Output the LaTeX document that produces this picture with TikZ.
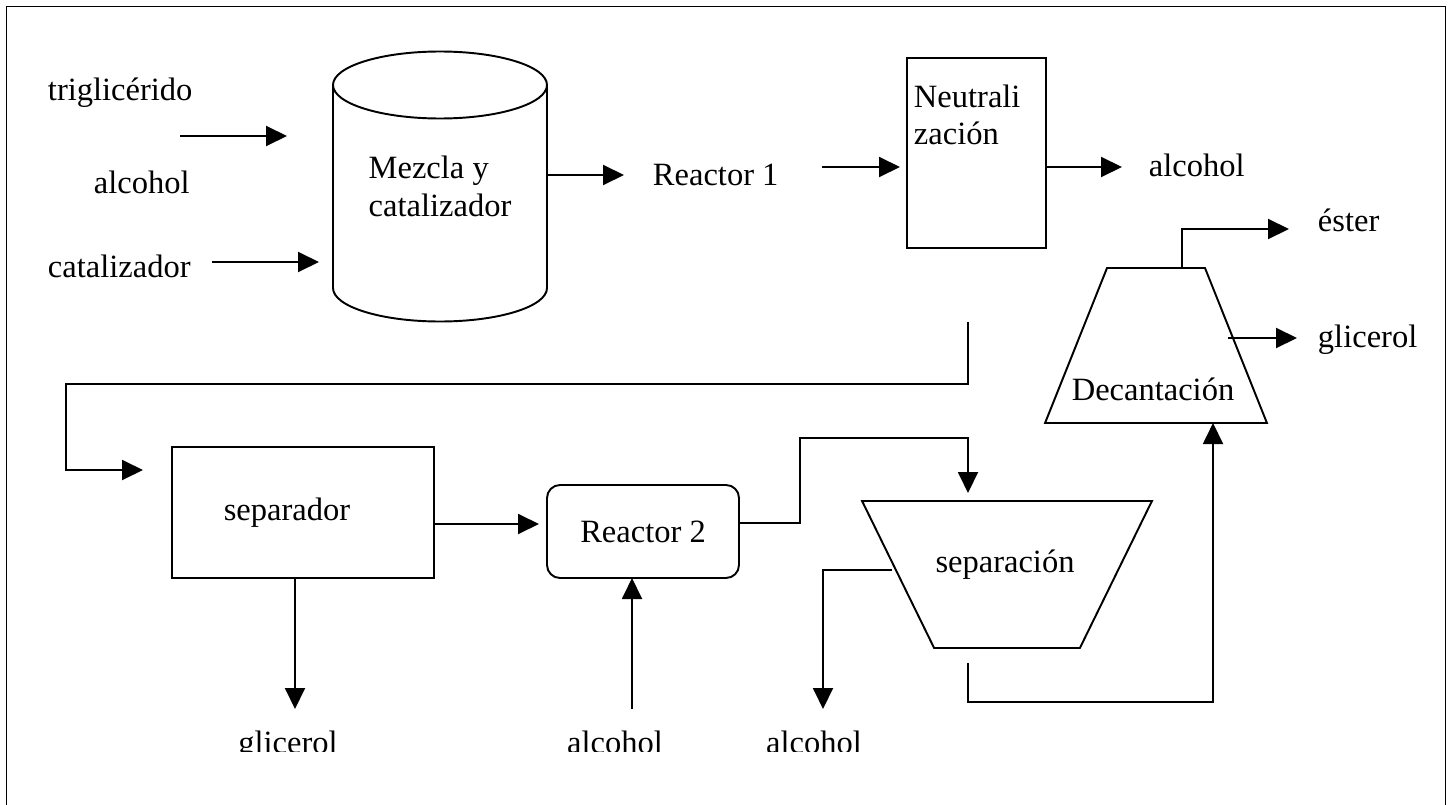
\documentclass[tikz,border=0pt]{standalone}
\usepackage{fontspec}
\setmainfont{Liberation Serif}
\usepackage{tikz}
\usetikzlibrary{shapes.geometric, arrows.meta, positioning, calc}

\begin{document}
\begin{tikzpicture}[y=-1cm, line width=1.1pt,
    every node/.style={font=\fontsize{18.5}{21.3}\selectfont},
    flow/.style={-{Triangle[length=0.42cm, width=0.40cm]}},
    txt/.style={anchor=base west, inner sep=0pt},
    unit/.style={draw, rectangle, outer sep=0pt},
    tank/.style={draw, trapezium, trapezium stretches=true, outer sep=0pt}]
    \useasboundingbox (0,0) rectangle (28.96,16.08);
    \clip (0,0) rectangle (28.96,16.08);
    \draw (0.13,0.13) rectangle (28.91,17);

    % entradas
    \node[txt] (trig) at (0.94,2.00) {triglicérido};
    \node[txt] (alc1) at (1.86,3.86) {alcohol};
    \node[txt] (cat) at (0.94,5.54) {catalizador};
    \coordinate (trigin) at (3.60,2.72);
    \coordinate (catin) at (4.24,5.24);

    % mezcla
    \node[minimum width=4.28cm, minimum height=4.06cm, outer sep=0pt, align=left] (mix) at (8.80,3.73) {Mezcla y\\catalizador};
    \draw (mix.north) ellipse [x radius=2.14cm, y radius=0.67cm];
    \draw (mix.north west) -- (mix.south west) arc[start angle=180, end angle=360, x radius=2.14cm, y radius=0.67cm] -- (mix.north east);

    \draw[flow] (trigin) -- ++(2.14,0);
    \draw[flow] (catin) -- ++(2.14,0);

    \node[txt] (r1) at (13.04,3.70) {Reactor 1};
    \draw[flow] ([yshift=0.23cm]mix.east) -- ++(1.54,0);

    % neutralizacion
    \node[unit, minimum width=2.78cm, minimum height=3.80cm] (neut) at (19.53,3.06) {};
    \node[anchor=north west, inner sep=0pt, align=left] (neutlbl) at (18.26,1.67) {Neutrali\\zación};
    \coordinate (r1out) at (16.44,3.34);
    \draw[flow] (r1out) -- ++(1.56,0);
    \node[txt] (alc2) at (22.96,3.54) {alcohol};
    \draw[flow] ([yshift=-0.28cm]neut.east) -- ++(1.52,0);

    % decantacion
    \node[tank, trapezium left angle=57.7, trapezium right angle=57.7, minimum width=4.44cm, minimum height=3.10cm] (dec) at (23.12,6.91) {};
    \node[anchor=base, inner sep=0pt] (declbl) at (23.06,8.00) {Decantación};
    \node[txt] (ester) at (26.34,4.62) {éster};
    \node[txt] (glic1) at (26.34,6.94) {glicerol};
    \coordinate (esterin) at (25.78,4.58);
    \coordinate (glicout) at (24.56,6.76);
    \draw[flow] ([xshift=0.52cm]dec.north) |- (esterin);
    \draw[flow] (glicout) -- ++(1.38,0);

    % retorno
    \coordinate (neutdown) at (19.36,6.44);
    \coordinate (seprin) at (2.86,9.40);
    \draw[flow] (neutdown) -- ++(0,1.24) -- ++(-18.04,0) |- (seprin);

    % separador y reactor 2
    \node[unit, minimum width=5.24cm, minimum height=2.62cm] (sepr) at (6.06,10.25) {};
    \node[anchor=base, inner sep=0pt] (seprlbl) at (5.74,10.40) {separador};
    \node[unit, rounded corners=0.26cm, minimum width=3.84cm, minimum height=1.86cm] (r2) at (12.86,10.63) {Reactor 2};
    \draw[flow] ([yshift=-0.23cm]sepr.east) -- ++(2.10,0);
    \draw[flow] ([xshift=-0.16cm]sepr.south) -- ++(0,2.62);
    \coordinate (r2feed) at (12.64,14.18);
    \draw[flow] (r2feed) -- (r2feed |- r2.south);

    % separacion
    \node[tank, shape border rotate=180, trapezium left angle=63.7, trapezium right angle=63.7, minimum width=5.80cm, minimum height=2.94cm] (sep) at (20.14,11.49) {};
    \node[anchor=base, inner sep=0pt] (seplbl) at (20.10,11.44) {separación};
    \coordinate (sepin) at (19.36,9.86);
    \draw[flow] ([yshift=0.17cm]r2.east) -- ++(1.22,0) -- ++(0,-1.70) -| (sepin);
    \coordinate (sepleft) at (17.84,11.40);
    \coordinate (alcout) at (16.46,14.18);
    \draw[flow] (sepleft) -| (alcout);
    \coordinate (sepout) at (19.36,13.26);
    \draw[flow] (sepout) -- ++(0,0.78) -| ([xshift=1.14cm]dec.south);

    % salidas abajo
    \begin{scope}
        \clip (0,0) rectangle (28.96,15.02);
        \node[anchor=base, inner sep=0pt] (glic2) at (5.76,15.06) {glicerol};
        \node[anchor=base, inner sep=0pt] (alc3) at (12.30,15.06) {alcohol};
        \node[anchor=base, inner sep=0pt] (alc4) at (16.28,15.06) {alcohol};
    \end{scope}
\end{tikzpicture}
\end{document}
